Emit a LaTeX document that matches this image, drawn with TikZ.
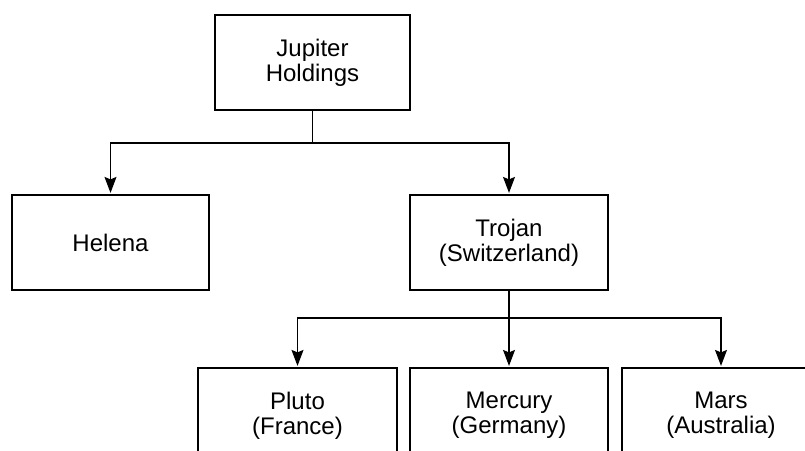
\documentclass[tikz,border=0pt]{standalone}
\usepackage{fontspec}
\setmainfont{Liberation Sans}
\usepackage{tikz}
\usetikzlibrary{arrows.meta}
\tikzset{
  every picture/.style={line join=miter, >=Stealth},
  orgbox/.style={draw, line width=1.2pt, rectangle, align=center,
    minimum width=197pt, minimum height=95pt, inner sep=0pt,
    font=\fontsize{24}{25}\selectfont},
  link/.style={line width=1.2pt},
  arr/.style={->, line width=1.2pt, shorten >=1.5pt,
    >={Stealth[length=16pt,width=12pt,inset=2.5pt]}},
}

\begin{document}
\begin{tikzpicture}[x=1pt,y=-1pt]
\clip(0,0)rectangle(805,450);
\fill[white](0,0)rectangle(805,450);
\node[orgbox,minimum width=195pt](jupiter)at(312.5,62.5){Jupiter\\Holdings};
\node[orgbox](helena)at(110.5,242.5){Helena};
\node[orgbox,minimum width=198pt](trojan)at(509,242.5){Trojan\\(Switzerland)};
\node[orgbox,minimum width=199pt](pluto)at(297.5,415.5){Pluto\\(France)};
\node[orgbox,minimum width=198pt](mercury)at(509,415.5){Mercury\\(Germany)};
\node[orgbox,minimum width=198pt](mars)at(721,415.5){Mars\\(Australia)};
\coordinate(split1)at(312.5,143);
\coordinate(split2)at(509,318);
\draw[link](jupiter.south)--(split1);
\draw[arr](split1)-|(helena.north);
\draw[arr](split1)-|(trojan.north);
\draw[arr](trojan.south)--(mercury.north);
\draw[arr](split2)-|(pluto.north);
\draw[arr](split2)-|(mars.north);
\end{tikzpicture}
\end{document}
